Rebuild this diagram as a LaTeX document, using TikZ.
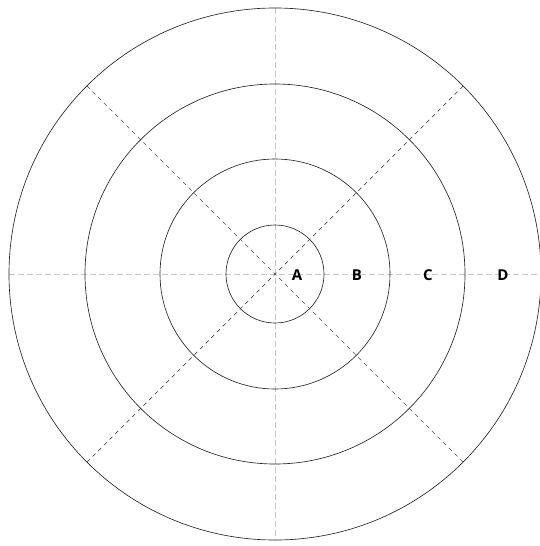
\documentclass[tikz,border=0pt]{standalone}
\usepackage{fontspec}
\setmainfont{Open Sans}
\usetikzlibrary{calc}
\begin{document}
\begin{tikzpicture}[x=1pt,y=-1pt,
  ring/.style={draw=black!85,line width=0.65pt},
  axisline/.style={draw=black!22,line width=0.7pt,dash pattern=on 6pt off 3pt},
  diagline/.style={draw=black!70,line width=0.7pt,dash pattern=on 4pt off 4pt},
  lbl/.style={font=\fontsize{15}{15}\selectfont\bfseries,inner sep=0pt}]
\useasboundingbox (0,0) rectangle (539,546);
\coordinate (O) at (275,274);
% axes
\draw[axisline] (9,274) -- (539,274);
\draw[axisline] (275,8) -- (275,540);
% diagonals
\draw[diagline] ($(O)+(-135:266)$) -- ($(O)+(45:266)$);
\draw[diagline] ($(O)+(135:266)$) -- ($(O)+(-45:266)$);
% rings
\draw[ring] (O) circle (49);
\draw[ring] (O) circle (115);
\draw[ring] (O) circle (190);
\draw[ring] (O) circle (266);
% labels
\node[lbl] (a) at (297,275) {A};
\node[lbl] (b) at (357,275) {B};
\node[lbl] (c) at (428,275) {C};
\node[lbl] (d) at (503,275) {D};
\end{tikzpicture}
\end{document}
